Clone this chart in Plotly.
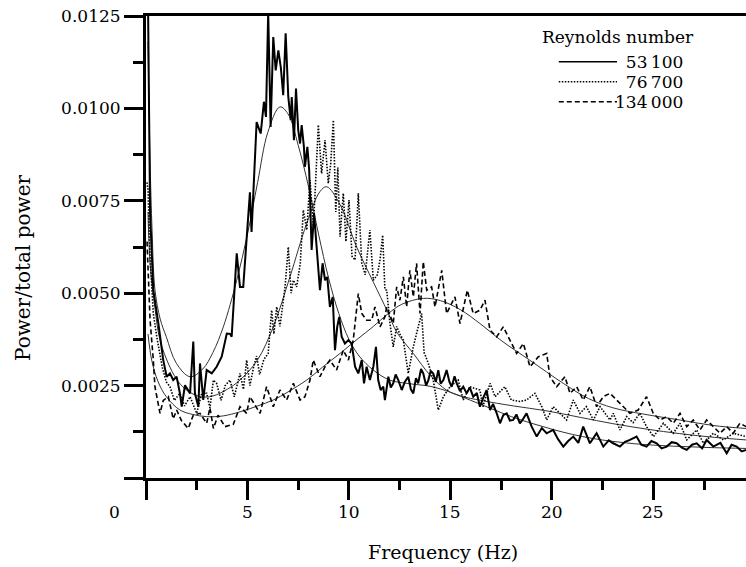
import plotly.graph_objects as go

# ---------------- data (power in units of 1e-3 of total power) ----------------
freq_53100 = [0.03, 0.1, 0.2, 0.36, 0.61, 0.85, 1.02, 1.18, 1.34, 1.51, 1.67, 1.76, 1.92, 2.17, 2.33, 2.41,
              2.58, 2.66, 2.82, 2.99, 3.24, 3.48, 3.73, 3.98, 4.14, 4.22, 4.47, 4.63, 4.79, 4.96, 5.12,
              5.2, 5.45, 5.65, 5.81, 5.91, 6.02, 6.14, 6.27, 6.39, 6.52, 6.64, 6.76, 6.88, 7.01, 7.13,
              7.18, 7.29, 7.39, 7.5, 7.59, 7.67, 7.78, 7.83, 7.95, 8.04, 8.08, 8.16, 8.28, 8.41, 8.57,
              8.7, 8.82, 8.93, 9.06, 9.2, 9.31, 9.42, 9.52, 9.64, 9.8, 9.97, 10.13, 10.3, 10.46, 10.63,
              10.74, 10.87, 11.03, 11.2, 11.33, 11.44, 11.56, 11.69, 11.77, 11.94, 12.06, 12.18, 12.3,
              12.43, 12.6, 12.75, 12.92, 13.05, 13.17, 13.3, 13.41, 13.55, 13.66, 13.8, 13.91, 14.03,
              14.15, 14.28, 14.4, 14.52, 14.65, 14.81, 14.95, 15.06, 15.2, 15.31, 15.47, 15.63, 15.8,
              15.95, 16.12, 16.3, 16.45, 16.6, 16.78, 16.95, 17.1, 17.28, 17.44, 17.6, 17.77, 17.93,
              18.09, 18.25, 18.42, 18.58, 18.75, 19.0, 19.25, 19.5,
              19.74, 20.06, 20.3, 20.56, 20.8, 21.05, 21.3, 21.54, 21.87, 22.2, 22.53, 22.8, 23.02, 23.35,
              23.6, 23.84, 24.17, 24.4, 24.66, 24.9, 25.16, 25.4, 25.65, 25.9, 26.14, 26.4, 26.64, 26.9,
              27.13, 27.4, 27.62, 27.95, 28.3, 28.61, 28.85, 29.1, 29.35, 29.56]
power_53100 = [14.0, 12.8, 7.2, 5.08, 4.18, 3.19, 2.74, 2.83, 2.65, 2.74, 2.29, 1.93, 2.51, 2.29, 3.69, 2.29,
               1.93, 3.10, 2.11, 2.92, 2.83, 3.01, 3.28, 3.91, 3.9, 3.82, 6.08, 5.17, 5.17, 6.49, 7.73,
               6.66, 9.63, 9.32, 10.18, 9.77, 12.6, 9.5, 11.93, 11.03, 11.57, 11.12, 10.36, 12.03, 10.31, 9.68,
               10.31, 9.14, 10.54, 9.41, 9.05, 9.55, 8.96, 8.42, 8.96, 8.33, 7.34, 6.17, 7.16, 6.25, 5.08,
               5.81, 5.35, 5.44, 4.63, 4.9, 3.46, 4.09, 4.36, 3.82, 3.64, 3.73, 3.64, 3.01, 2.83, 3.19,
               2.56, 3.01, 2.65, 3.01, 3.55, 2.65, 2.38, 2.47, 2.11, 2.74, 2.45, 2.56, 2.8,
               2.65, 2.38, 2.6, 2.74, 2.4, 2.29, 2.7, 2.56, 2.95, 2.83, 2.5, 2.65, 2.9,
               2.83, 2.6, 2.92, 2.55, 2.65, 2.92, 2.6, 2.47, 2.75, 2.56, 2.35, 2.47, 2.29,
               2.45, 2.2, 2.3, 1.93, 2.15, 2.38, 1.84, 2.0, 1.75, 1.48, 1.7, 1.75, 1.55,
               1.57, 1.72, 1.48, 1.6, 1.75, 1.39, 1.12, 1.35,
               1.21, 1.30, 1.05, 0.85, 1.0, 1.12, 0.95, 1.39, 0.94, 1.21, 0.85, 1.02, 0.94, 0.85,
               0.98, 1.03, 1.12, 0.9, 0.85, 1.0, 0.94, 0.8, 0.85, 0.97, 0.94, 0.82, 0.76, 0.9,
               0.94, 0.8, 1.03, 0.85, 0.95, 0.67, 0.9, 0.85, 0.72, 0.76]

freq_76700 = [0.05, 0.1, 0.2, 0.36, 0.53, 0.8, 1.0, 1.18, 1.4, 1.67, 1.9, 2.17, 2.5, 2.75, 2.99, 3.15, 3.32,
              3.48, 3.7, 3.9, 4.14, 4.35, 4.63, 4.8, 4.96, 5.12, 5.3, 5.45, 5.6, 5.8, 6.02, 6.19, 6.3,
              6.44, 6.6, 6.85, 7.01, 7.15, 7.26, 7.42, 7.6, 7.75, 7.92, 8.08, 8.25, 8.49, 8.65, 8.82,
              8.98, 9.1, 9.23, 9.35, 9.45, 9.56, 9.72, 9.85, 10.0, 10.15, 10.3, 10.46, 10.63, 10.8,
              11.03, 11.2, 11.4, 11.53, 11.66, 11.77, 11.86, 12.02, 12.18, 12.35, 12.5, 12.68, 12.92,
              13.17, 13.41, 13.58, 13.7, 13.91, 14.15, 14.4, 14.65, 14.98, 15.38, 15.63, 15.96, 16.45,
              16.6, 16.95, 17.2, 17.68, 18.0, 18.42, 18.75, 19.16, 19.5, 19.74, 20.06, 20.4, 20.72,
              21.05, 21.38, 21.7, 22.04, 22.37, 22.86, 23.02, 23.35, 23.68, 24.0, 24.33, 24.66, 25.0,
              25.49, 25.98, 26.31, 26.64, 27.13, 27.46, 27.95, 28.45, 28.94, 29.56]
power_76700 = [8.0, 7.8, 6.0, 4.45, 3.82, 3.0, 2.6, 2.47, 2.1, 2.29, 1.95, 2.2, 1.75, 2.3, 2.29, 1.9, 2.65,
               2.56, 2.1, 2.5, 2.65, 2.2, 2.83, 2.4, 3.19, 2.5, 3.0, 3.3, 2.8, 3.2, 3.37, 4.54, 3.9,
               4.63, 4.1, 5.17, 6.25, 5.0, 5.35, 5.17, 5.8, 7.25, 6.71, 8.06, 6.8, 9.55, 8.24, 9.14,
               7.97, 8.5, 9.68, 7.2, 8.4, 6.53, 7.7, 6.4, 7.52, 6.0, 5.9, 7.7, 5.81, 5.5,
               6.71, 5.35, 5.5, 5.9, 6.57, 5.1, 5.08, 4.18, 3.55, 4.1, 3.9, 3.73, 2.83,
               3.55, 4.09, 4.45, 3.4, 3.1, 2.65, 1.84, 2.2, 2.47, 2.65, 2.11, 2.47, 2.38,
               1.93, 2.56, 2.2, 2.47, 2.11, 2.07, 2.11, 2.29, 1.93, 1.57, 1.93, 1.75, 1.57,
               2.11, 1.75, 1.93, 1.57, 1.93, 1.57, 1.75, 1.3, 1.66, 1.5, 1.75, 1.39, 1.12,
               1.48, 1.21, 1.48, 1.03, 1.3, 0.94, 1.21, 1.03, 1.21, 1.12]

freq_134000 = [0.05, 0.2, 0.36, 0.44, 0.69, 0.85, 1.1, 1.34, 1.51, 1.75, 2.08, 2.33, 2.66, 2.99, 3.15, 3.32,
               3.55, 3.89, 4.3, 4.63, 4.96, 5.12, 5.62, 5.94, 6.27, 6.6, 6.93, 7.26, 7.59, 7.83, 8.08,
               8.24, 8.57, 8.82, 9.06, 9.39, 9.72, 9.97, 10.21, 10.46, 10.63, 10.87, 11.12, 11.28, 11.53,
               11.77, 11.86, 12.18, 12.35, 12.51, 12.68, 12.84, 13.0, 13.17, 13.33, 13.5, 13.66, 13.83,
               14.07, 14.24, 14.57, 14.81, 15.22, 15.47, 15.83, 16.12, 16.45, 16.7, 16.95, 17.28, 17.6,
               17.93, 18.26, 18.59, 18.92, 19.33, 19.74, 19.9, 20.23, 20.64, 20.89, 21.22, 21.54, 21.87,
               22.2, 22.53, 22.86, 23.19, 23.51, 23.84, 24.25, 24.66, 24.99, 25.32, 25.65, 25.98, 26.31,
               26.64, 26.96, 27.29, 27.62, 27.95, 28.28, 28.61, 28.93, 29.26, 29.56]
power_134000 = [6.4, 4.27, 3.19, 2.47, 1.75, 2.1, 2.2, 1.6, 1.84, 1.55, 1.34, 1.7, 1.75, 1.48, 1.9, 1.34,
                1.7, 1.39, 1.45, 1.93, 1.75, 2.2, 1.75, 2.47, 1.93, 2.38, 2.11, 2.56, 2.11, 2.2, 2.65,
                3.19, 2.74, 3.01, 3.19, 2.92, 3.46, 3.19, 3.73, 4.99, 4.45, 4.27, 4.27, 4.63, 4.09,
                4.36, 4.63, 4.18, 5.17, 4.81, 5.44, 4.63, 5.62, 4.9, 5.81, 4.45, 5.85, 5.08,
                5.17, 4.63, 5.62, 4.45, 4.9, 4.18, 5.08, 4.45, 4.54, 4.81, 4.0, 3.82, 4.09,
                3.73, 3.37, 3.64, 3.01, 3.28, 3.37, 2.74, 2.47, 2.74, 2.29, 2.47, 2.11, 2.47,
                1.93, 2.2, 2.29, 2.11, 1.93, 1.75, 1.84, 2.2, 1.75, 1.57, 1.66, 1.48, 1.75,
                1.39, 1.57, 1.3, 1.57, 1.39, 1.21, 1.39, 1.21, 1.48, 1.39]

# smooth fitted curves
fit_freq_53100 = [0.1, 0.2, 0.3, 0.44, 0.7, 1.0, 1.5, 2.17, 2.8, 3.3, 3.81, 4.47, 5.0, 5.5, 6.0, 6.6, 7.0,
                  7.5, 8.0, 8.5, 9.0, 9.5, 10.0, 10.5, 11.2, 12.0, 13.0, 14.0, 15.0, 16.0, 17.0, 18.0,
                  19.0, 20.0, 21.0, 22.0, 23.0, 24.0, 25.0, 26.0, 27.0, 28.0, 29.56]
fit_power_53100 = [11.8, 8.6, 6.7, 5.1, 4.3, 3.82, 3.1, 2.74, 2.95, 3.4, 4.09, 5.35, 6.6, 8.0, 9.35, 10.04, 9.85,
                   9.0, 7.9, 6.6, 5.4, 4.45, 3.75, 3.3, 2.92, 2.65, 2.55, 2.48, 2.32, 2.1, 1.88, 1.66,
                   1.48, 1.32, 1.18, 1.07, 0.99, 0.93, 0.89, 0.86, 0.84, 0.82, 0.8]

fit_freq_76700 = [0.1, 0.2, 0.44, 0.69, 1.18, 1.6, 2.0, 2.66, 3.3, 4.0, 4.63, 5.5, 6.27, 7.09, 7.92, 8.57,
                  8.9, 9.56, 10.38, 11.2, 11.9, 12.35, 13.17, 14.0, 14.8, 15.5, 16.5, 18.1, 19.7, 21.4,
                  23.0, 24.7, 26.3, 28.0, 29.56]
fit_power_76700 = [7.2, 5.8, 4.6, 3.73, 3.0, 2.6, 2.38, 2.2, 2.22, 2.4, 2.65, 3.2, 4.09, 5.44, 6.89, 7.75,
                   7.88, 7.4, 6.25, 5.3, 4.5, 3.95, 3.37, 2.78, 2.38, 2.22, 2.1, 1.95, 1.82, 1.64,
                   1.47, 1.32, 1.2, 1.1, 1.03]

fit_freq_134000 = [0.1, 0.28, 0.6, 1.0, 1.67, 2.3, 3.0, 3.8, 4.63, 5.5, 6.27, 7.0, 7.92, 8.7, 9.56, 10.4,
                   11.2, 11.94, 12.6, 13.66, 14.5, 15.5, 16.45, 17.5, 18.9, 20.56, 21.8, 23.0, 24.5,
                   26.3, 27.95, 29.56]
fit_power_134000 = [3.9, 3.19, 2.6, 2.2, 1.84, 1.72, 1.66, 1.68, 1.79, 1.95, 2.11, 2.33, 2.65, 3.0, 3.37, 3.75,
                    4.1, 4.45, 4.7, 4.86, 4.8, 4.55, 4.18, 3.72, 3.19, 2.56, 2.15, 1.9, 1.73,
                    1.57, 1.42, 1.34]

legend_title = "Reynolds number"
legend_labels = ["\u200753\u2009100", "\u200776\u2009700", "134\u2009000"]
x_tick_vals = [0, 5, 10, 15, 20, 25]
x_tick_text = ["0", "5", "10", "15", "20", "25"]
y_tick_vals = [0, 0.0025, 0.005, 0.0075, 0.01, 0.0125]
y_tick_text = ["", "0.0025", "0.0050", "0.0075", "0.0100", "0.0125"]

SCALE = 1e-3
FONT = "DejaVu Serif"
FS = 17
INK = "black"

fig = go.Figure()

def add(xs, ys, name, width, dash, color=INK):
    fig.add_trace(go.Scatter(x=xs, y=[v * SCALE for v in ys], mode="lines", name=name,
                             line=dict(color=color, width=width, dash=dash),
                             showlegend=False, hoverinfo="skip"))

# fits (thin smooth)
for fx, fy, nm in [(fit_freq_53100, fit_power_53100, "fit 53100"),
                   (fit_freq_76700, fit_power_76700, "fit 76700"),
                   (fit_freq_134000, fit_power_134000, "fit 134000")]:
    fig.add_trace(go.Scatter(x=fx, y=[v * SCALE for v in fy], mode="lines", name=nm,
                             line=dict(color="#333333", width=1, shape="spline", smoothing=1.0),
                             showlegend=False, hoverinfo="skip"))

# measured spectra
add(freq_134000, power_134000, legend_labels[2], 1.6, "5px,3px")
add(freq_76700, power_76700, legend_labels[1], 1.6, "1.5px,1.5px")
add(freq_53100, power_53100, legend_labels[0], 2.0, "solid")

# hand-built legend (to match compact layout of the original)
L_X0, L_X1, L_TX = 0.688, 0.785, 0.898
rows = [0.9011, 0.8578, 0.8145]
styles = [("solid", 1.4), ("1.5px,1.5px", 1.4), ("5px,3px", 1.4)]
shapes = []
annotations = [dict(text=legend_title, x=0.7867, y=0.9545, xref="paper", yref="paper",
                    showarrow=False, xanchor="center", yanchor="middle",
                    font=dict(family=FONT, size=FS, color=INK))]
for lbl, yy, (dsh, w) in zip(legend_labels, rows, styles):
    shapes.append(dict(type="line", xref="paper", yref="paper", x0=L_X0, x1=L_X1, y0=yy, y1=yy,
                       line=dict(color=INK, width=w, dash=dsh)))
    annotations.append(dict(text=lbl, x=L_TX, y=yy, xref="paper", yref="paper", showarrow=False,
                            xanchor="right", yanchor="middle",
                            font=dict(family=FONT, size=FS, color=INK)))

# x tick labels (placed at the tick values; the origin label sits left of the corner)
X_LABEL_Y = -0.0736
for val, txt in zip(x_tick_vals, x_tick_text):
    if val == 0:
        annotations.append(dict(text=txt, x=-0.0533, y=X_LABEL_Y, xref="paper", yref="paper",
                                showarrow=False, xanchor="center", yanchor="middle",
                                font=dict(family=FONT, size=FS, color=INK)))
    else:
        annotations.append(dict(text=txt, x=val, y=X_LABEL_Y, xref="x", yref="paper",
                                showarrow=False, xanchor="center", yanchor="middle",
                                font=dict(family=FONT, size=FS, color=INK)))

# axis titles
annotations += [
    dict(text="Frequency (Hz)", x=0.495, y=-0.1602, xref="paper", yref="paper", showarrow=False,
         xanchor="center", yanchor="middle", font=dict(family=FONT, size=19, color=INK)),
    dict(text="Power/total power", x=-0.205, y=0.4545, xref="paper", yref="paper", showarrow=False,
         textangle=-90, xanchor="center", yanchor="middle", font=dict(family=FONT, size=20, color=INK)),
]

fig.update_layout(
    width=746, height=567,
    margin=dict(l=146, r=0, t=16, b=89),
    paper_bgcolor="white", plot_bgcolor="white",
    font=dict(family=FONT, size=FS, color=INK),
    shapes=shapes, annotations=annotations, showlegend=False,
)
fig.update_xaxes(range=[0, 29.56], tickvals=x_tick_vals, showticklabels=False,
                 showgrid=False, zeroline=False, showline=True, linecolor=INK, linewidth=3,
                 mirror=True, ticks="outside", ticklen=19, tickwidth=3, tickcolor=INK,
                 minor=dict(dtick=2.5, tick0=0, ticks="outside", ticklen=9, tickwidth=3, tickcolor=INK,
                            showgrid=False))
fig.update_yaxes(range=[0, 0.0125], tickvals=y_tick_vals, ticktext=y_tick_text,
                 showgrid=False, zeroline=False, showline=True, linecolor=INK, linewidth=3,
                 mirror=False, ticks="outside", ticklen=19, tickwidth=3, tickcolor=INK,
                 minor=dict(dtick=0.00125, tick0=0, ticks="outside", ticklen=10, tickwidth=3,
                            tickcolor=INK, showgrid=False),
                 tickfont=dict(family=FONT, size=FS, color=INK))

fig.write_html("out.html")
